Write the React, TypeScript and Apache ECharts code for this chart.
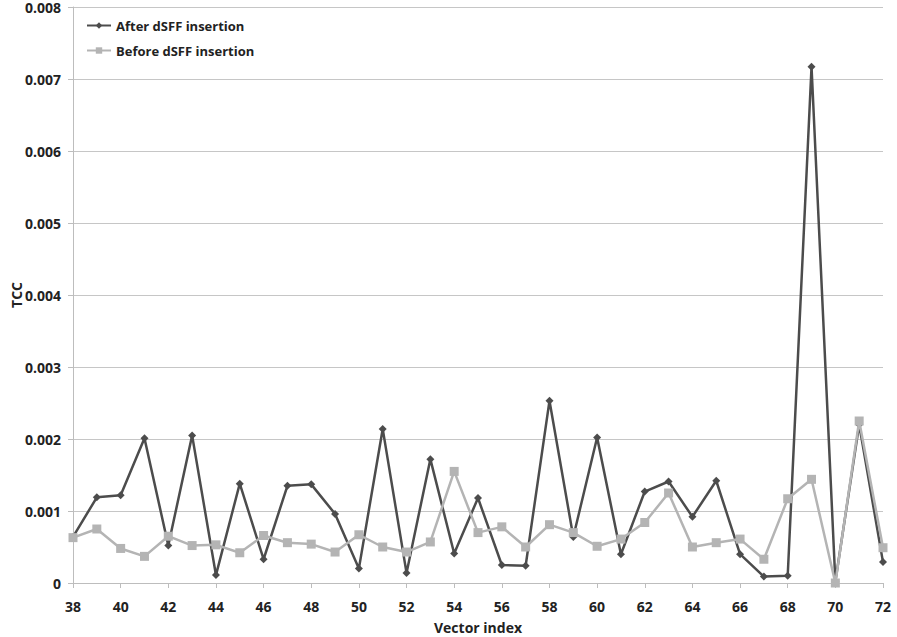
import React, { useEffect, useRef } from "react";
import * as echarts from "echarts";

const categories: string[] = [
  "38","39","40","41","42","43","44","45","46","47","48","49","50","51","52","53","54",
  "55","56","57","58","59","60","61","62","63","64","65","66","67","68","69","70","71","72",
];
const afterValues: number[] = [
  0.00064, 0.00119, 0.00122, 0.00201, 0.00052, 0.00205, 0.00011, 0.00138, 0.00033,
  0.00135, 0.00137, 0.00096, 0.0002, 0.00214, 0.00014, 0.00172, 0.00041, 0.00118,
  0.00025, 0.00024, 0.00253, 0.00064, 0.00202, 0.0004, 0.00127, 0.00141, 0.00092,
  0.00142, 0.0004, 0.00009, 0.0001, 0.00717, 0.00002, 0.0022, 0.00029,
];
const beforeValues: number[] = [
  0.00063, 0.00075, 0.00048, 0.00037, 0.00065, 0.00052, 0.00053, 0.00042, 0.00066,
  0.00056, 0.00054, 0.00043, 0.00067, 0.0005, 0.00043, 0.00057, 0.00155, 0.0007,
  0.00078, 0.0005, 0.00081, 0.0007, 0.00051, 0.00061, 0.00084, 0.00125, 0.0005,
  0.00056, 0.00061, 0.00033, 0.00117, 0.00144, 0.0, 0.00225, 0.00049,
];
const seriesNames = ["After dSFF insertion", "Before dSFF insertion"];

const FONT = "'Open Sans', 'Liberation Sans', sans-serif";

export default function App() {
  const ref = useRef<HTMLDivElement>(null);
  useEffect(() => {
    if (!ref.current) return;
    const chart = echarts.init(ref.current, null, { renderer: "svg" });
    chart.setOption({
      animation: false,
      backgroundColor: "#ffffff",
      grid: {
        left: 73,
        right: 14,
        top: 7,
        bottom: 54,
        containLabel: false,
        outerBoundsMode: "none",
      },
      legend: {
        orient: "vertical",
        left: 81,
        top: 14,
        itemWidth: 24,
        itemHeight: 8,
        itemGap: 12,
        textStyle: { fontFamily: FONT, fontWeight: "bold", fontSize: 13, color: "#222" },
        data: seriesNames,
      },
      xAxis: {
        type: "category",
        data: categories,
        boundaryGap: false,
        name: "Vector index",
        nameLocation: "middle",
        nameGap: 37,
        nameMoveOverlap: false,
        nameTextStyle: { fontFamily: FONT, fontWeight: "bold", fontSize: 14, color: "#222" },
        axisLine: { lineStyle: { color: "#bdbdbd", width: 1 } },
        axisTick: { show: true, interval: 1, length: 5, lineStyle: { color: "#bdbdbd" } },
        axisLabel: {
          interval: 1,
          fontFamily: FONT,
          fontWeight: "bold",
          fontSize: 14,
          color: "#222",
          margin: 16,
        },
        splitLine: { show: false },
      },
      yAxis: {
        type: "value",
        min: 0,
        max: 0.008,
        interval: 0.001,
        name: "TCC",
        nameLocation: "middle",
        nameGap: 50,
        nameMoveOverlap: false,
        nameRotate: 90,
        nameTextStyle: { fontFamily: FONT, fontWeight: "bold", fontSize: 14, color: "#222" },
        axisLine: { show: true, lineStyle: { color: "#bdbdbd", width: 1 } },
        axisTick: { show: true, length: 5, lineStyle: { color: "#bdbdbd" } },
        axisLabel: {
          fontFamily: FONT,
          fontWeight: "bold",
          fontSize: 14,
          color: "#222",
          margin: 12,
          formatter: (v: number) => (v === 0 ? "0" : v.toFixed(3)),
        },
        splitLine: { show: true, lineStyle: { color: "#c6c6c6", width: 1 } },
      },
      series: [
        {
          name: seriesNames[0],
          type: "line",
          data: afterValues,
          symbol: "diamond",
          symbolSize: 8,
          z: 2,
          lineStyle: { color: "#4c4c4c", width: 2.5 },
          itemStyle: { color: "#4c4c4c" },
        },
        {
          name: seriesNames[1],
          type: "line",
          data: beforeValues,
          symbol: "rect",
          symbolSize: 9,
          z: 3,
          lineStyle: { color: "#b4b4b4", width: 2.5 },
          itemStyle: { color: "#b4b4b4" },
        },
      ],
    });
    return () => chart.dispose();
  }, []);
  return (
    <div
      ref={ref}
      style={{ position: "absolute", left: 0, top: 0, width: 897, height: 637 }}
    />
  );
}
